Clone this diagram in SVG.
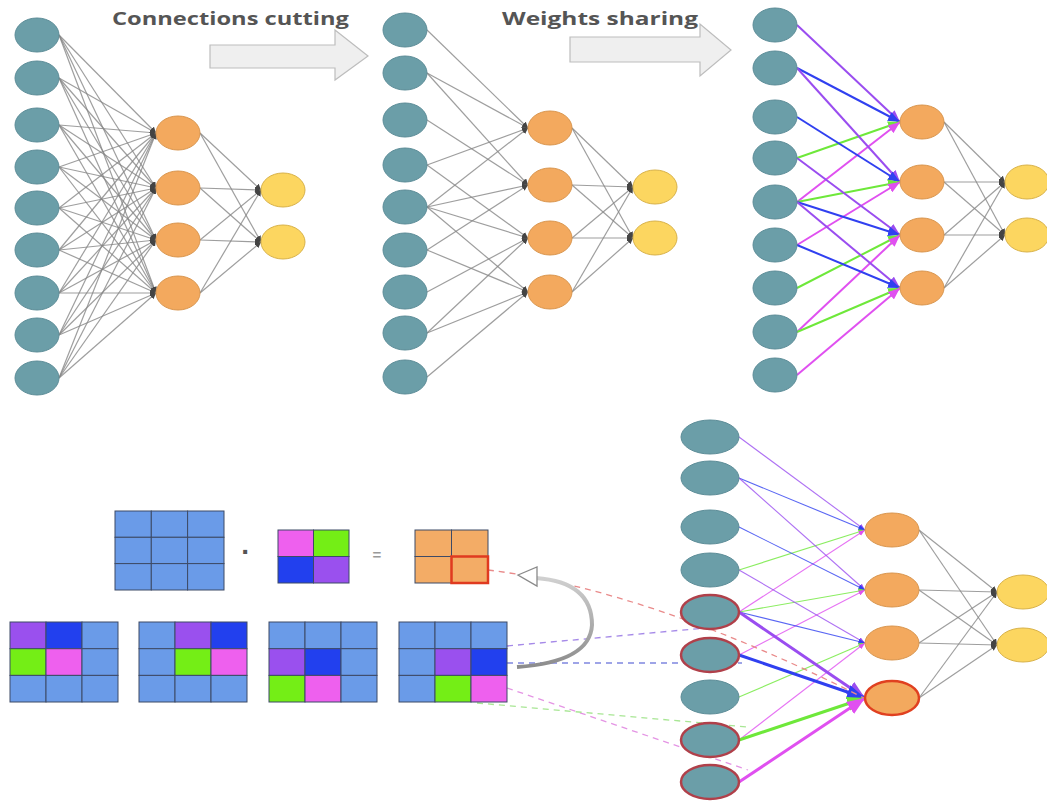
<svg xmlns="http://www.w3.org/2000/svg" width="1047" height="805" viewBox="0 0 1047 805">
<style>
.bg{fill:#ffffff}
.in{fill:#6b9ea8;stroke:#5d8d98;stroke-width:1}
.hd{fill:#f3a95e;stroke:#d9964f;stroke-width:1}
.out{fill:#fcd660;stroke:#d8b24a;stroke-width:1}
.sel{stroke:#b0404a;stroke-width:2.5}
.selh{stroke:#e04020;stroke-width:2.5}
.g{stroke:#868686;stroke-opacity:.8;stroke-width:1.2;fill:none;marker-end:url(#mg)}
.P{stroke:#9a4df0;fill:none;marker-end:url(#mP)}
.B{stroke:#3040f0;fill:none;marker-end:url(#mB)}
.G{stroke:#6ee83a;fill:none;marker-end:url(#mG)}
.M{stroke:#e050f0;fill:none;marker-end:url(#mM)}
.w2{stroke-width:2}
.w1{stroke-width:1.1;stroke-opacity:.8}
.w3{stroke-width:3}
.title{font-family:"Open Sans","Liberation Sans",sans-serif;font-weight:bold;font-size:17px;fill:#555555}
.bigarrow{fill:#efefef;stroke:#bdbdbd;stroke-width:1.2}
.cell{stroke:#3d4a66;stroke-width:1}
.lb{fill:#6a9be8}
.cp{fill:#9a50ee}
.cb{fill:#2240ee}
.cg{fill:#74ee16}
.cm{fill:#ee60ee}
.co{fill:#f3ac66}
.dash{fill:none;stroke-width:1.3;stroke-dasharray:6 5}
</style>
<defs>
<marker id="mg" viewBox="0 0 6 6" markerWidth="6" markerHeight="6" refX="6" refY="3" orient="auto" markerUnits="userSpaceOnUse"><path d="M0,0L6,3L0,6z" fill="#444"/></marker>
<marker id="mP" viewBox="0 0 10 8" markerWidth="6" markerHeight="5" refX="10" refY="4" orient="auto"><path d="M0,0L10,4L0,8z" fill="#9a4df0"/></marker>
<marker id="mB" viewBox="0 0 10 8" markerWidth="6" markerHeight="5" refX="10" refY="4" orient="auto"><path d="M0,0L10,4L0,8z" fill="#3040f0"/></marker>
<marker id="mG" viewBox="0 0 10 8" markerWidth="6" markerHeight="5" refX="10" refY="4" orient="auto"><path d="M0,0L10,4L0,8z" fill="#6ee83a"/></marker>
<marker id="mM" viewBox="0 0 10 8" markerWidth="6" markerHeight="5" refX="10" refY="4" orient="auto"><path d="M0,0L10,4L0,8z" fill="#e050f0"/></marker>
<linearGradient id="curveGrad" x1="0" y1="0" x2="0" y2="1"><stop offset="0" stop-color="#d0d0d0"/><stop offset="1" stop-color="#8c8c8c"/></linearGradient>
</defs>
<rect class="bg" x="0" y="0" width="1047" height="805"/>

<g id="labels">
<text class="title" x="112" y="25" textLength="237" lengthAdjust="spacingAndGlyphs">Connections cutting</text>
<text class="title" x="502" y="25" textLength="196" lengthAdjust="spacingAndGlyphs">Weights sharing</text>
</g>

<g id="arrow-cutting"><polygon class="bigarrow" points="210,45 335,45 335,30 368,56 335,80 335,68 210,68"/></g>
<g id="arrow-sharing"><polygon class="bigarrow" points="570,37 700,37 700,24 731,50 700,76 700,62 570,62"/></g>

<g id="connectors">
<g id="net1-edges">
<path class="g" d="M59,35L156,133"/><path class="g" d="M59,35L156,188"/><path class="g" d="M59,35L156,240"/><path class="g" d="M59,35L156,293"/>
<path class="g" d="M59,78L156,133"/><path class="g" d="M59,78L156,188"/><path class="g" d="M59,78L156,240"/><path class="g" d="M59,78L156,293"/>
<path class="g" d="M59,125L156,133"/><path class="g" d="M59,125L156,188"/><path class="g" d="M59,125L156,240"/><path class="g" d="M59,125L156,293"/>
<path class="g" d="M59,167L156,133"/><path class="g" d="M59,167L156,188"/><path class="g" d="M59,167L156,240"/><path class="g" d="M59,167L156,293"/>
<path class="g" d="M59,208L156,133"/><path class="g" d="M59,208L156,188"/><path class="g" d="M59,208L156,240"/><path class="g" d="M59,208L156,293"/>
<path class="g" d="M59,250L156,133"/><path class="g" d="M59,250L156,188"/><path class="g" d="M59,250L156,240"/><path class="g" d="M59,250L156,293"/>
<path class="g" d="M59,293L156,133"/><path class="g" d="M59,293L156,188"/><path class="g" d="M59,293L156,240"/><path class="g" d="M59,293L156,293"/>
<path class="g" d="M59,335L156,133"/><path class="g" d="M59,335L156,188"/><path class="g" d="M59,335L156,240"/><path class="g" d="M59,335L156,293"/>
<path class="g" d="M59,378L156,133"/><path class="g" d="M59,378L156,188"/><path class="g" d="M59,378L156,240"/><path class="g" d="M59,378L156,293"/>
<path class="g" d="M200,133L261,190"/><path class="g" d="M200,133L261,242"/>
<path class="g" d="M200,188L261,190"/><path class="g" d="M200,188L261,242"/>
<path class="g" d="M200,240L261,190"/><path class="g" d="M200,240L261,242"/>
<path class="g" d="M200,293L261,190"/><path class="g" d="M200,293L261,242"/>
</g>
<g id="net2-edges">
<path class="g" d="M427,30L528,128"/><path class="g" d="M427,73L528,128"/><path class="g" d="M427,165L528,128"/><path class="g" d="M427,207L528,128"/>
<path class="g" d="M427,73L528,185"/><path class="g" d="M427,120L528,185"/><path class="g" d="M427,207L528,185"/><path class="g" d="M427,250L528,185"/>
<path class="g" d="M427,165L528,238"/><path class="g" d="M427,207L528,238"/><path class="g" d="M427,292L528,238"/><path class="g" d="M427,333L528,238"/>
<path class="g" d="M427,207L528,292"/><path class="g" d="M427,250L528,292"/><path class="g" d="M427,333L528,292"/><path class="g" d="M427,377L528,292"/>
<path class="g" d="M572,128L633,187"/><path class="g" d="M572,128L633,238"/>
<path class="g" d="M572,185L633,187"/><path class="g" d="M572,185L633,238"/>
<path class="g" d="M572,238L633,187"/><path class="g" d="M572,238L633,238"/>
<path class="g" d="M572,292L633,187"/><path class="g" d="M572,292L633,238"/>
</g>
<g id="net3-edges">
<path class="P w2" d="M797,25L900,122"/><path class="B w2" d="M797,68L900,122"/><path class="G w2" d="M797,158L900,122"/><path class="M w2" d="M797,202L900,122"/>
<path class="P w2" d="M797,68L900,182"/><path class="B w2" d="M797,117L900,182"/><path class="G w2" d="M797,202L900,182"/><path class="M w2" d="M797,245L900,182"/>
<path class="P w2" d="M797,158L900,235"/><path class="B w2" d="M797,202L900,235"/><path class="G w2" d="M797,288L900,235"/><path class="M w2" d="M797,332L900,235"/>
<path class="P w2" d="M797,202L900,288"/><path class="B w2" d="M797,245L900,288"/><path class="G w2" d="M797,332L900,288"/><path class="M w2" d="M797,375L900,288"/>
<path class="g" d="M944,122L1005,182"/><path class="g" d="M944,122L1005,235"/>
<path class="g" d="M944,182L1005,182"/><path class="g" d="M944,182L1005,235"/>
<path class="g" d="M944,235L1005,182"/><path class="g" d="M944,235L1005,235"/>
<path class="g" d="M944,288L1005,182"/><path class="g" d="M944,288L1005,235"/>
</g>
<g id="net4-edges">
<path class="P w1" d="M739,437L865,530"/><path class="B w1" d="M739,478L865,530"/><path class="G w1" d="M739,570L865,530"/><path class="M w1" d="M739,612L865,530"/>
<path class="P w1" d="M739,478L865,590"/><path class="B w1" d="M739,527L865,590"/><path class="G w1" d="M739,612L865,590"/><path class="M w1" d="M739,655L865,590"/>
<path class="P w1" d="M739,570L865,643"/><path class="B w1" d="M739,612L865,643"/><path class="G w1" d="M739,697L865,643"/><path class="M w1" d="M739,740L865,643"/>
<path class="P w3" d="M739,612L865,698"/><path class="B w3" d="M739,655L865,698"/><path class="G w3" d="M739,740L865,698"/><path class="M w3" d="M739,782L865,698"/>
<path class="g" d="M919,530L997,592"/><path class="g" d="M919,530L997,645"/>
<path class="g" d="M919,590L997,592"/><path class="g" d="M919,590L997,645"/>
<path class="g" d="M919,643L997,592"/><path class="g" d="M919,643L997,645"/>
<path class="g" d="M919,698L997,592"/><path class="g" d="M919,698L997,645"/>
</g>
<g id="mapping-edges">
<path class="dash" stroke="#e98a8a" d="M488,570Q650,590 864,698"/>
<path class="dash" stroke="#a68ae8" d="M507,646L705,628"/>
<path class="dash" stroke="#7f86e0" d="M507,663L742,663"/>
<path class="dash" stroke="#e494e4" d="M507,688L748,770"/>
<path class="dash" stroke="#a8e694" d="M477,703L748,727"/>
</g>
<g id="curve-arrow">
<path d="M536,578Q592,582 592,625Q590,662 517,667" fill="none" stroke="url(#curveGrad)" stroke-width="4"/>
<polygon points="518,575 537,567 537,586" fill="#ffffff" stroke="#8a8a8a" stroke-width="1.3"/>
</g>
</g>

<g id="n1-i1"><ellipse class="in" cx="37" cy="35" rx="22" ry="17"/></g>
<g id="n1-i2"><ellipse class="in" cx="37" cy="78" rx="22" ry="17"/></g>
<g id="n1-i3"><ellipse class="in" cx="37" cy="125" rx="22" ry="17"/></g>
<g id="n1-i4"><ellipse class="in" cx="37" cy="167" rx="22" ry="17"/></g>
<g id="n1-i5"><ellipse class="in" cx="37" cy="208" rx="22" ry="17"/></g>
<g id="n1-i6"><ellipse class="in" cx="37" cy="250" rx="22" ry="17"/></g>
<g id="n1-i7"><ellipse class="in" cx="37" cy="293" rx="22" ry="17"/></g>
<g id="n1-i8"><ellipse class="in" cx="37" cy="335" rx="22" ry="17"/></g>
<g id="n1-i9"><ellipse class="in" cx="37" cy="378" rx="22" ry="17"/></g>
<g id="n1-h1"><ellipse class="hd" cx="178" cy="133" rx="22" ry="17"/></g>
<g id="n1-h2"><ellipse class="hd" cx="178" cy="188" rx="22" ry="17"/></g>
<g id="n1-h3"><ellipse class="hd" cx="178" cy="240" rx="22" ry="17"/></g>
<g id="n1-h4"><ellipse class="hd" cx="178" cy="293" rx="22" ry="17"/></g>
<g id="n1-o1"><ellipse class="out" cx="283" cy="190" rx="22" ry="17"/></g>
<g id="n1-o2"><ellipse class="out" cx="283" cy="242" rx="22" ry="17"/></g>

<g id="n2-i1"><ellipse class="in" cx="405" cy="30" rx="22" ry="17"/></g>
<g id="n2-i2"><ellipse class="in" cx="405" cy="73" rx="22" ry="17"/></g>
<g id="n2-i3"><ellipse class="in" cx="405" cy="120" rx="22" ry="17"/></g>
<g id="n2-i4"><ellipse class="in" cx="405" cy="165" rx="22" ry="17"/></g>
<g id="n2-i5"><ellipse class="in" cx="405" cy="207" rx="22" ry="17"/></g>
<g id="n2-i6"><ellipse class="in" cx="405" cy="250" rx="22" ry="17"/></g>
<g id="n2-i7"><ellipse class="in" cx="405" cy="292" rx="22" ry="17"/></g>
<g id="n2-i8"><ellipse class="in" cx="405" cy="333" rx="22" ry="17"/></g>
<g id="n2-i9"><ellipse class="in" cx="405" cy="377" rx="22" ry="17"/></g>
<g id="n2-h1"><ellipse class="hd" cx="550" cy="128" rx="22" ry="17"/></g>
<g id="n2-h2"><ellipse class="hd" cx="550" cy="185" rx="22" ry="17"/></g>
<g id="n2-h3"><ellipse class="hd" cx="550" cy="238" rx="22" ry="17"/></g>
<g id="n2-h4"><ellipse class="hd" cx="550" cy="292" rx="22" ry="17"/></g>
<g id="n2-o1"><ellipse class="out" cx="655" cy="187" rx="22" ry="17"/></g>
<g id="n2-o2"><ellipse class="out" cx="655" cy="238" rx="22" ry="17"/></g>

<g id="n3-i1"><ellipse class="in" cx="775" cy="25" rx="22" ry="17"/></g>
<g id="n3-i2"><ellipse class="in" cx="775" cy="68" rx="22" ry="17"/></g>
<g id="n3-i3"><ellipse class="in" cx="775" cy="117" rx="22" ry="17"/></g>
<g id="n3-i4"><ellipse class="in" cx="775" cy="158" rx="22" ry="17"/></g>
<g id="n3-i5"><ellipse class="in" cx="775" cy="202" rx="22" ry="17"/></g>
<g id="n3-i6"><ellipse class="in" cx="775" cy="245" rx="22" ry="17"/></g>
<g id="n3-i7"><ellipse class="in" cx="775" cy="288" rx="22" ry="17"/></g>
<g id="n3-i8"><ellipse class="in" cx="775" cy="332" rx="22" ry="17"/></g>
<g id="n3-i9"><ellipse class="in" cx="775" cy="375" rx="22" ry="17"/></g>
<g id="n3-h1"><ellipse class="hd" cx="922" cy="122" rx="22" ry="17"/></g>
<g id="n3-h2"><ellipse class="hd" cx="922" cy="182" rx="22" ry="17"/></g>
<g id="n3-h3"><ellipse class="hd" cx="922" cy="235" rx="22" ry="17"/></g>
<g id="n3-h4"><ellipse class="hd" cx="922" cy="288" rx="22" ry="17"/></g>
<g id="n3-o1"><ellipse class="out" cx="1027" cy="182" rx="22" ry="17"/></g>
<g id="n3-o2"><ellipse class="out" cx="1027" cy="235" rx="22" ry="17"/></g>

<g id="n4-i1"><ellipse class="in" cx="710" cy="437" rx="29" ry="17"/></g>
<g id="n4-i2"><ellipse class="in" cx="710" cy="478" rx="29" ry="17"/></g>
<g id="n4-i3"><ellipse class="in" cx="710" cy="527" rx="29" ry="17"/></g>
<g id="n4-i4"><ellipse class="in" cx="710" cy="570" rx="29" ry="17"/></g>
<g id="n4-i5"><ellipse class="in sel" cx="710" cy="612" rx="29" ry="17"/></g>
<g id="n4-i6"><ellipse class="in sel" cx="710" cy="655" rx="29" ry="17"/></g>
<g id="n4-i7"><ellipse class="in" cx="710" cy="697" rx="29" ry="17"/></g>
<g id="n4-i8"><ellipse class="in sel" cx="710" cy="740" rx="29" ry="17"/></g>
<g id="n4-i9"><ellipse class="in sel" cx="710" cy="782" rx="29" ry="17"/></g>
<g id="n4-h1"><ellipse class="hd" cx="892" cy="530" rx="27" ry="17"/></g>
<g id="n4-h2"><ellipse class="hd" cx="892" cy="590" rx="27" ry="17"/></g>
<g id="n4-h3"><ellipse class="hd" cx="892" cy="643" rx="27" ry="17"/></g>
<g id="n4-h4"><ellipse class="hd selh" cx="892" cy="698" rx="27" ry="17"/></g>
<g id="n4-o1"><ellipse class="out" cx="1023" cy="592" rx="26" ry="17"/></g>
<g id="n4-o2"><ellipse class="out" cx="1023" cy="645" rx="26" ry="17"/></g>

<g id="input-grid">
<rect class="cell lb" x="115" y="511" width="36.3" height="26.3"/><rect class="cell lb" x="151.3" y="511" width="36.3" height="26.3"/><rect class="cell lb" x="187.6" y="511" width="36.4" height="26.3"/>
<rect class="cell lb" x="115" y="537.3" width="36.3" height="26.3"/><rect class="cell lb" x="151.3" y="537.3" width="36.3" height="26.3"/><rect class="cell lb" x="187.6" y="537.3" width="36.4" height="26.3"/>
<rect class="cell lb" x="115" y="563.6" width="36.3" height="26.4"/><rect class="cell lb" x="151.3" y="563.6" width="36.3" height="26.4"/><rect class="cell lb" x="187.6" y="563.6" width="36.4" height="26.4"/>
</g>
<g id="op-dot"><text x="246" y="561" font-family="Liberation Sans, sans-serif" font-size="28" font-weight="bold" fill="#555" text-anchor="middle">·</text></g>
<g id="kernel">
<rect class="cell cm" x="278" y="530" width="35.5" height="26.5"/><rect class="cell cg" x="313.5" y="530" width="35.5" height="26.5"/>
<rect class="cell cb" x="278" y="556.5" width="35.5" height="26.5"/><rect class="cell cp" x="313.5" y="556.5" width="35.5" height="26.5"/>
</g>
<g id="op-eq"><text x="377" y="560" font-family="Liberation Sans, sans-serif" font-size="15" font-weight="bold" fill="#999" text-anchor="middle">=</text></g>
<g id="output-grid">
<rect class="cell co" x="415" y="530" width="36.5" height="26.5"/><rect class="cell co" x="451.5" y="530" width="36.5" height="26.5"/>
<rect class="cell co" x="415" y="556.5" width="36.5" height="26.5"/><rect class="cell co" x="451.5" y="556.5" width="36.5" height="26.5" style="stroke:#e03a20;stroke-width:2.5"/>
</g>

<g id="window-1">
<rect class="cell cp" x="10" y="622" width="36" height="26.7"/><rect class="cell cb" x="46" y="622" width="36" height="26.7"/><rect class="cell lb" x="82" y="622" width="36" height="26.7"/>
<rect class="cell cg" x="10" y="648.7" width="36" height="26.7"/><rect class="cell cm" x="46" y="648.7" width="36" height="26.7"/><rect class="cell lb" x="82" y="648.7" width="36" height="26.7"/>
<rect class="cell lb" x="10" y="675.4" width="36" height="26.6"/><rect class="cell lb" x="46" y="675.4" width="36" height="26.6"/><rect class="cell lb" x="82" y="675.4" width="36" height="26.6"/>
</g>
<g id="window-2">
<rect class="cell lb" x="139" y="622" width="36" height="26.7"/><rect class="cell cp" x="175" y="622" width="36" height="26.7"/><rect class="cell cb" x="211" y="622" width="36" height="26.7"/>
<rect class="cell lb" x="139" y="648.7" width="36" height="26.7"/><rect class="cell cg" x="175" y="648.7" width="36" height="26.7"/><rect class="cell cm" x="211" y="648.7" width="36" height="26.7"/>
<rect class="cell lb" x="139" y="675.4" width="36" height="26.6"/><rect class="cell lb" x="175" y="675.4" width="36" height="26.6"/><rect class="cell lb" x="211" y="675.4" width="36" height="26.6"/>
</g>
<g id="window-3">
<rect class="cell lb" x="269" y="622" width="36" height="26.7"/><rect class="cell lb" x="305" y="622" width="36" height="26.7"/><rect class="cell lb" x="341" y="622" width="36" height="26.7"/>
<rect class="cell cp" x="269" y="648.7" width="36" height="26.7"/><rect class="cell cb" x="305" y="648.7" width="36" height="26.7"/><rect class="cell lb" x="341" y="648.7" width="36" height="26.7"/>
<rect class="cell cg" x="269" y="675.4" width="36" height="26.6"/><rect class="cell cm" x="305" y="675.4" width="36" height="26.6"/><rect class="cell lb" x="341" y="675.4" width="36" height="26.6"/>
</g>
<g id="window-4">
<rect class="cell lb" x="399" y="622" width="36" height="26.7"/><rect class="cell lb" x="435" y="622" width="36" height="26.7"/><rect class="cell lb" x="471" y="622" width="36" height="26.7"/>
<rect class="cell lb" x="399" y="648.7" width="36" height="26.7"/><rect class="cell cp" x="435" y="648.7" width="36" height="26.7"/><rect class="cell cb" x="471" y="648.7" width="36" height="26.7"/>
<rect class="cell lb" x="399" y="675.4" width="36" height="26.6"/><rect class="cell cg" x="435" y="675.4" width="36" height="26.6"/><rect class="cell cm" x="471" y="675.4" width="36" height="26.6"/>
</g>
</svg>
